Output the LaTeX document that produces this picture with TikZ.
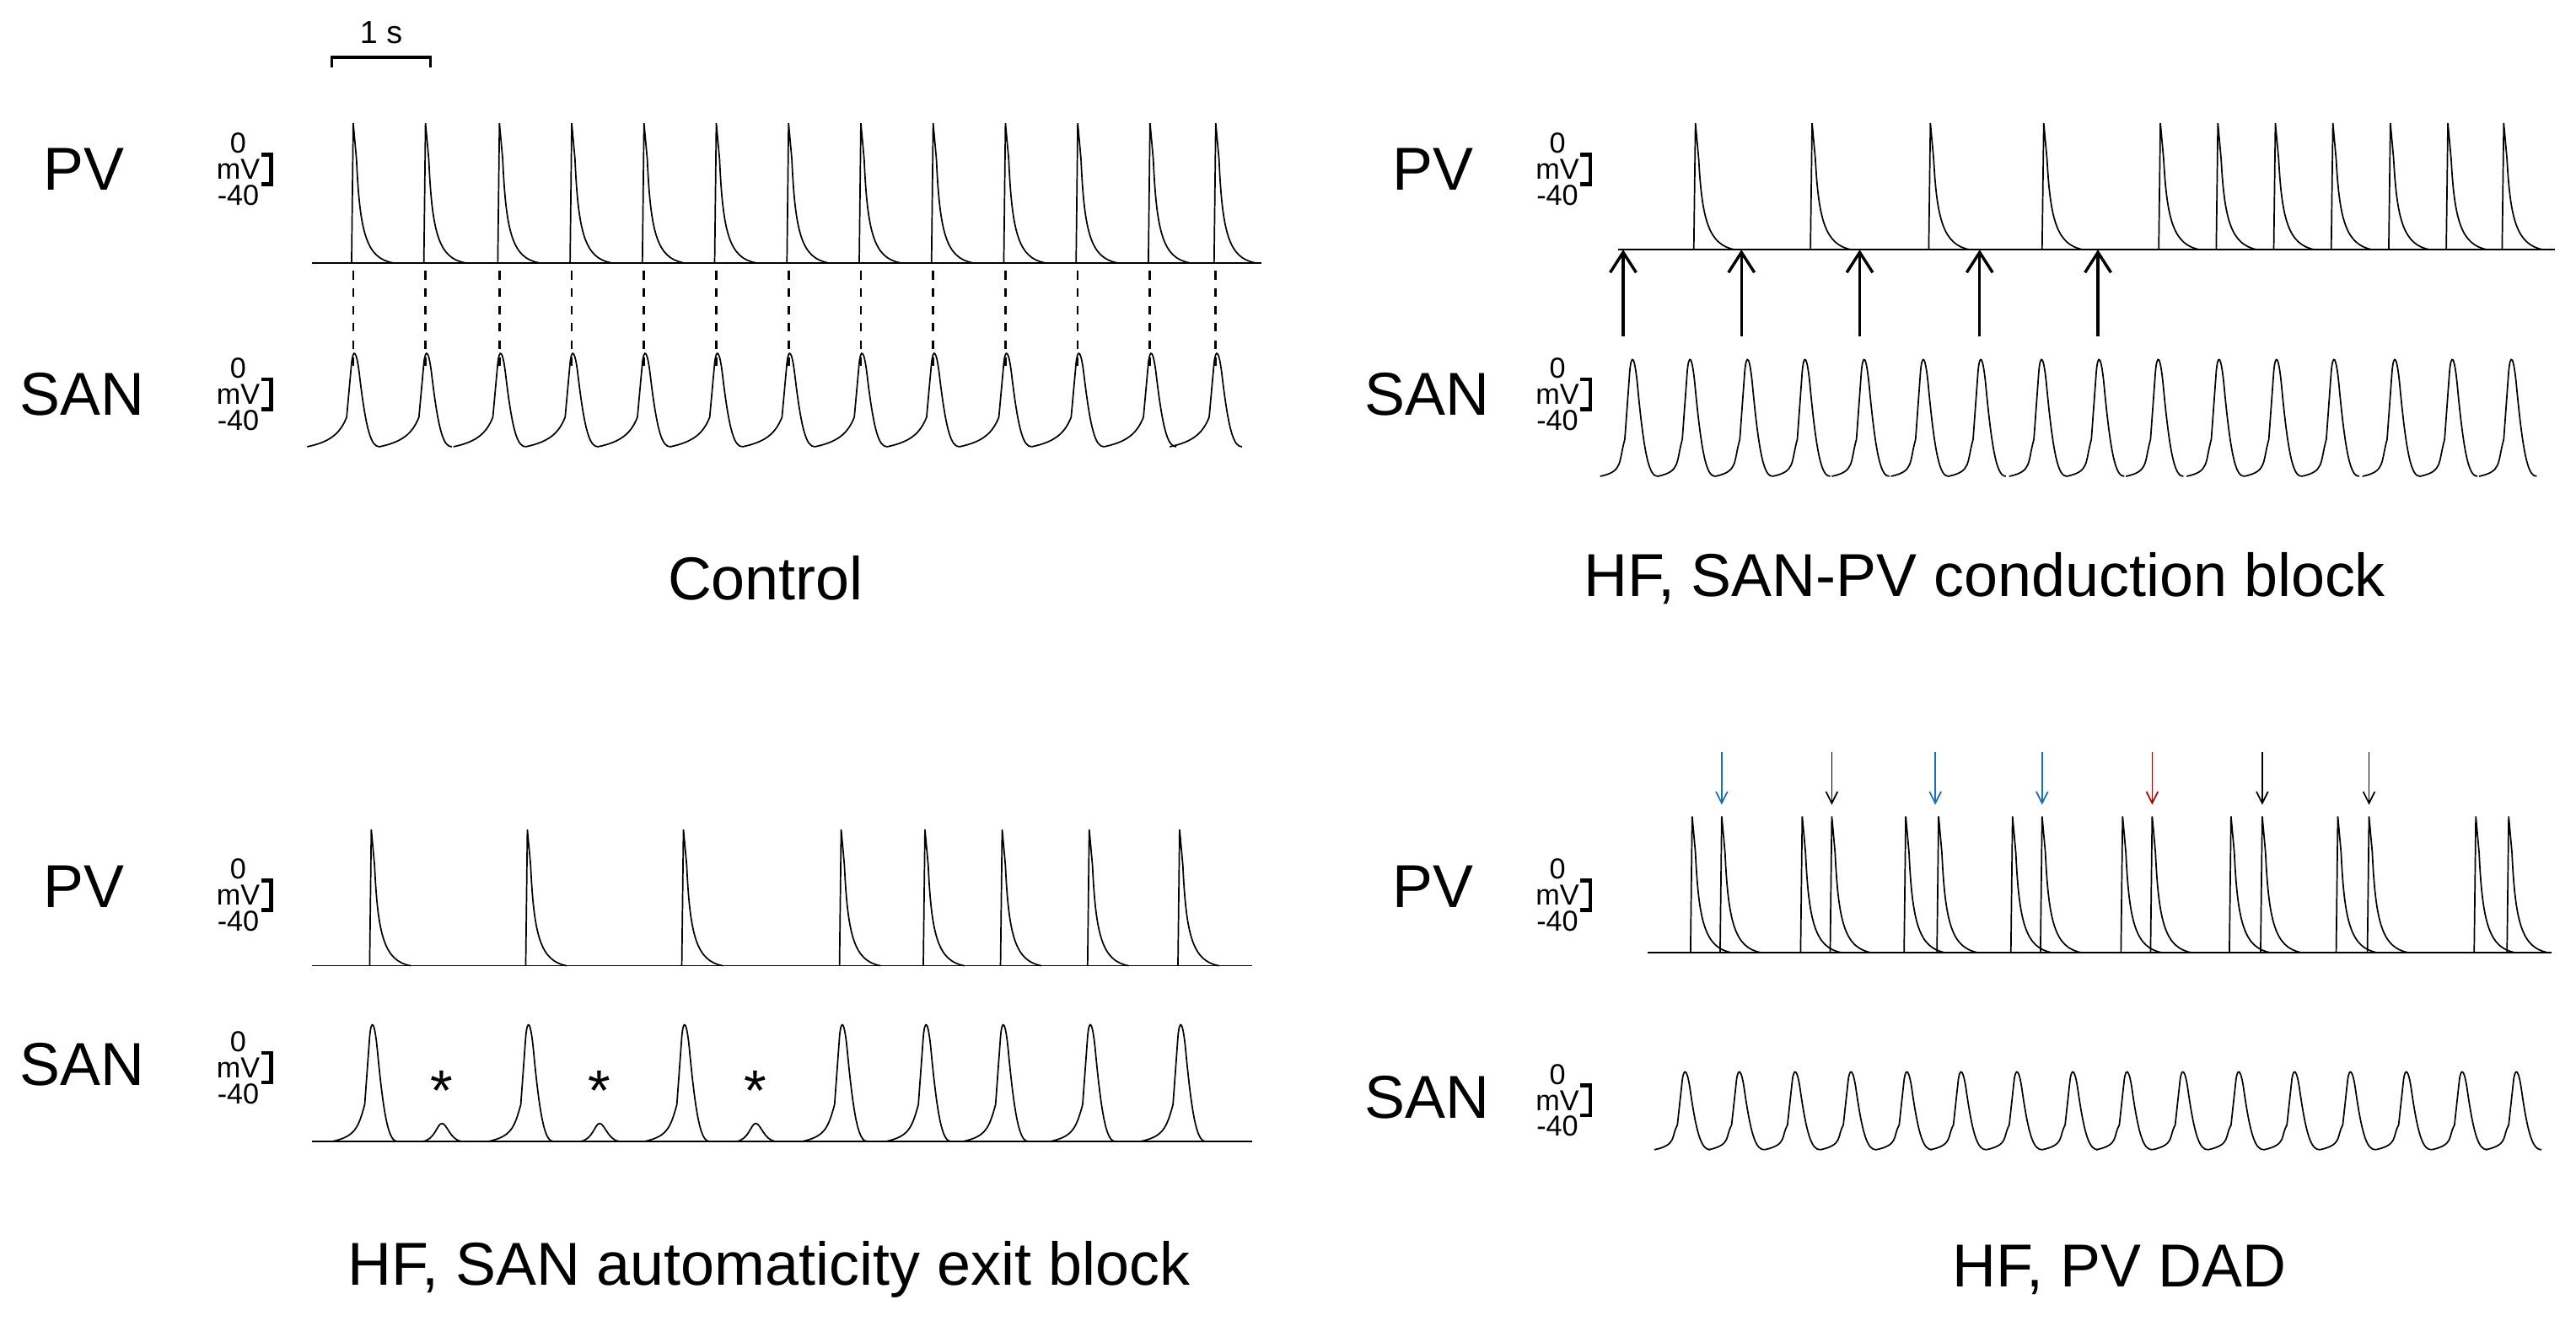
\documentclass[tikz,border=0pt]{standalone}
\usepackage{fontspec}
\setmainfont{Liberation Sans}
\usetikzlibrary{arrows.meta}
\begin{document}
\begin{tikzpicture}[x=0.02cm,y=-0.02cm,
  trace/.style={line width=0.5pt,black},
  big/.style={font=\fontsize{21}{24}\selectfont},
  small/.style={font=\fontsize{10}{9}\selectfont,inner sep=0pt,align=center},
  arr/.style={-{Straight Barb[length=4pt,width=4pt]},line width=0.5pt},
  bigarr/.style={-{Straight Barb[length=7pt,width=9pt]},line width=1pt}]
\useasboundingbox (0,0) rectangle (1568,814);
\fill[white] (0,0) rectangle (1568,814);
\newcommand{\PVsp}[3]{\draw[trace] ({#1-1},#2) -- (#1,#3) -- ({#1+2},{#3+22}) .. controls ({#1+4},{#2-18}) and ({#1+8},{#2-3}) .. ({#1+24},#2);}
% x, base, top, period
\newcommand{\SANsp}[4]{\draw[trace] ({#1-#4+16},{#2}) .. controls ({#1-#4+30},{#2-3}) and ({#1-8},{#2-8}) .. ({#1-4},{#2-0.3*(#2-#3)}) -- ({#1-1},{#3+0.15*(#2-#3)}) .. controls ({#1},{#3}) and ({#1+2},{#3}) .. ({#1+4},{#3+0.3*(#2-#3)}) .. controls ({#1+8},{#2-0.15*(#2-#3)}) and ({#1+11},{#2}) .. ({#1+16},{#2});}
\newcommand{\Lab}[4]{\node[big,anchor=east] (#4) at (#1,#2) {#3};}
\newcommand{\MV}[3]{\node[small] (#3) at (#1,#2) {0\\mV\\-40};
  \draw[line width=1.4pt] ({#1+14},{#2-9}) -- ({#1+20},{#2-9}) -- ({#1+20},{#2+9}) -- ({#1+14},{#2+9});}
% scale bar
\node[small,font=\fontsize{11}{11}\selectfont] (sb) at (232,20) {1 s};
\draw[line width=1pt] (202,41) -- (202,35) -- (262,35) -- (262,41);
% ===== Control
\Lab{82}{103}{PV}{l1}\MV{145}{103}{m1}
\Lab{94}{240}{SAN}{l2}\MV{145}{240}{m2}
\draw[trace] (190,160) -- (768,160);
\foreach \x in {215,259,304,348,392,436,480,524,568,612,656,700,740}{
  \PVsp{\x}{160}{75}
  \SANsp{\x}{272}{212}{44}
  \draw[dashed,line width=0.8pt] (\x,165) -- (\x,224);
}
\node[big] (t1) at (466,352) {Control};
% ===== Conduction block
\Lab{903}{103}{PV}{l3}\MV{948}{103}{m3}
\Lab{913}{240}{SAN}{l4}\MV{948}{240}{m4}
\draw[trace] (985,152) -- (1555,152);
\foreach \x in {1032,1103,1175,1244,1315,1350,1385,1420,1455,1490,1524}{\PVsp{\x}{152}{75}}
\foreach \x in {993,1028,1063,1098,1134,1170,1205,1242,1277,1313,1350,1385,1420,1457,1492,1528}{\SANsp{\x}{290}{215}{35}}
\foreach \x in {988,1060,1132,1205,1277}{\draw[bigarr] (\x,205) -- (\x,152);}
\node[big] (t2) at (1208,352) {HF, SAN-PV conduction block};
% ===== Exit block
\Lab{82}{540}{PV}{l5}\MV{145}{545}{m5}
\Lab{94}{648}{SAN}{l6}\MV{145}{650}{m6}
\draw[trace] (190,588) -- (762,588);
\draw[trace] (190,695) -- (762,695);
\foreach \x in {226,321,416,512,563,610,663,718}{\PVsp{\x}{588}{505}\SANsp{\x}{695}{620}{40}}
\foreach \x in {269,365,460}{
  \draw[trace] ({\x-12},695) .. controls ({\x-4},694) and ({\x-3},684) .. (\x,684) .. controls ({\x+3},684) and ({\x+5},694) .. ({\x+12},695);
  \node[font=\fontsize{20}{20}\selectfont] at (\x,664) {*};}
\node[big] (t3) at (468,773) {HF, SAN automaticity exit block};
% ===== DAD
\Lab{903}{540}{PV}{l7}\MV{948}{545}{m7}
\Lab{913}{668}{SAN}{l8}\MV{948}{670}{m8}
\draw[trace] (1003,580) -- (1553,580);
\foreach \x in {1030,1048,1097,1115,1160,1180,1225,1243,1292,1310,1358,1377,1423,1442,1507,1527}{\PVsp{\x}{580}{497}}
\foreach \x in {1025,1058,1092,1126,1160,1193,1227,1261,1294,1328,1362,1396,1430,1464,1498,1531}{\SANsp{\x}{700}{650}{34}}
\foreach \x/\c in {1048/cyan!50!blue,1115/black,1178/cyan!50!blue,1243/cyan!50!blue,1310/red!70!black,1377/black,1442/black}{
  \draw[arr,draw=\c] (\x,458) -- (\x,490);}
\node[big] (t4) at (1290,773) {HF, PV DAD};
\end{tikzpicture}
\end{document}
